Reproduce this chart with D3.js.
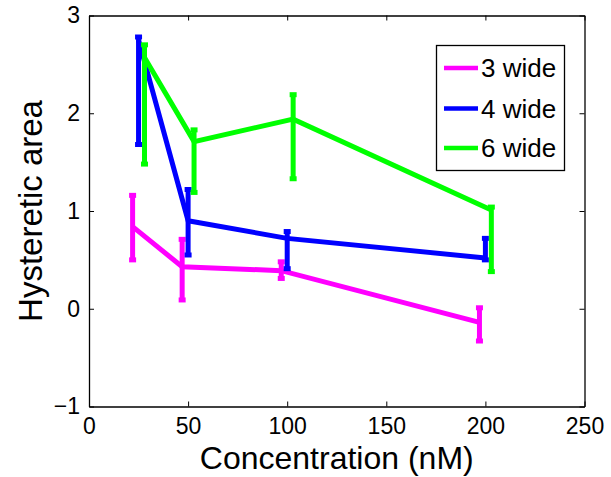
<!DOCTYPE html>
<html>
<head>
<meta charset="utf-8">
<script src="https://cdn.jsdelivr.net/npm/d3@7"></script>
<style>
  html, body { margin: 0; padding: 0; background: #fff; }
  svg { display: block; }
  text { font-family: "Liberation Sans", Arial, Helvetica, sans-serif; fill: #000; }
</style>
</head>
<body>
<svg id="chart" width="611" height="477"></svg>
<script>
// Concentration (nM) per series, with small horizontal offsets so bars don't overlap
const seriesNames = ["3 wide", "4 wide", "6 wide"];
const seriesColors = ["#ff00ff", "#0000ff", "#00ff00"];

const conc3 = [22, 47, 97, 197];
const area3 = [0.84, 0.43, 0.39, -0.14];
const lower3 = [0.50, 0.09, 0.31, -0.33];
const upper3 = [1.16, 0.71, 0.48, 0.01];

const conc4 = [25, 50, 100, 200];
const area4 = [2.75, 0.90, 0.72, 0.52];
const lower4 = [1.68, 0.55, 0.41, 0.50];
const upper4 = [2.78, 1.22, 0.79, 0.72];

const conc6 = [28, 53, 103, 203];
const area6 = [2.57, 1.71, 1.94, 1.01];
const lower6 = [1.48, 1.19, 1.33, 0.38];
const upper6 = [2.70, 1.83, 2.19, 1.04];

const xTicks = [0, 50, 100, 150, 200, 250];
const yTicks = [-1, 0, 1, 2, 3];

const series = [
  { name: seriesNames[0], color: seriesColors[0], x: conc3, y: area3, lo: lower3, hi: upper3 },
  { name: seriesNames[1], color: seriesColors[1], x: conc4, y: area4, lo: lower4, hi: upper4 },
  { name: seriesNames[2], color: seriesColors[2], x: conc6, y: area6, lo: lower6, hi: upper6 }
];

const svg = d3.select("#chart");
const plotLeft = 89, plotRight = 584.5, plotTop = 15.5, plotBottom = 406.5;

const x = d3.scaleLinear().domain([0, 250]).range([plotLeft, plotRight]);
const y = d3.scaleLinear().domain([-1, 3]).range([plotBottom, plotTop]);

const lineW = 5;

// Plot data: error bars and connecting lines per series
const plot = svg.append("g");
series.forEach(s => {
  const g = plot.append("g");
  const pts = s.x.map((cx, i) => ({ cx, cy: s.y[i], lo: s.lo[i], hi: s.hi[i] }));
  // vertical bars
  g.selectAll("line.bar").data(pts).join("line")
    .attr("x1", d => x(d.cx)).attr("x2", d => x(d.cx))
    .attr("y1", d => y(d.lo)).attr("y2", d => y(d.hi))
    .attr("stroke", s.color).attr("stroke-width", lineW);
  // caps
  ["lo", "hi"].forEach(k => {
    g.selectAll("line.cap" + k).data(pts).join("line")
      .attr("x1", d => x(d.cx) - 3.5).attr("x2", d => x(d.cx) + 3.5)
      .attr("y1", d => y(d[k])).attr("y2", d => y(d[k]))
      .attr("stroke", s.color).attr("stroke-width", lineW);
  });
  g.append("path")
    .datum(pts)
    .attr("d", d3.line().x(d => x(d.cx)).y(d => y(d.cy)))
    .attr("fill", "none")
    .attr("stroke", s.color)
    .attr("stroke-width", lineW)
    .attr("stroke-linejoin", "miter");
});

// Axes box with inward ticks on all four sides
const axisG = svg.append("g");
const tickLen = 5;
axisG.append("g").attr("transform", `translate(0,${plotBottom})`)
  .call(d3.axisBottom(x).tickValues(xTicks).tickSizeInner(-tickLen).tickSizeOuter(0).tickPadding(11))
  .call(g => g.selectAll("text").attr("font-size", 23).attr("dy", "0.71em"));
axisG.append("g").attr("transform", `translate(0,${plotTop})`)
  .call(d3.axisTop(x).tickValues(xTicks).tickSizeInner(-tickLen).tickSizeOuter(0).tickFormat(""));
axisG.append("g").attr("transform", `translate(${plotLeft},0)`)
  .call(d3.axisLeft(y).tickValues(yTicks).tickSizeInner(-tickLen).tickSizeOuter(0).tickPadding(9)
    .tickFormat(d => d < 0 ? "\u2212" + Math.abs(d) : d))
  .call(g => g.selectAll("text").attr("font-size", 23));
axisG.append("g").attr("transform", `translate(${plotRight},0)`)
  .call(d3.axisRight(y).tickValues(yTicks).tickSizeInner(-tickLen).tickSizeOuter(0).tickFormat(""));
axisG.selectAll(".domain").attr("stroke", "#000").attr("stroke-width", 1.3);
axisG.selectAll(".tick line").attr("stroke", "#000").attr("stroke-width", 1);
axisG.selectAll("text").attr("font-family", "Liberation Sans, Arial, sans-serif").attr("fill", "#000");

// Axis titles
svg.append("text")
  .attr("x", (plotLeft + plotRight) / 2).attr("y", 468.5)
  .attr("text-anchor", "middle").attr("font-size", 32)
  .text("Concentration (nM)");
svg.append("text")
  .attr("transform", `translate(42,${(plotTop + plotBottom) / 2}) rotate(-90)`)
  .attr("text-anchor", "middle").attr("font-size", 33)
  .text("Hysteretic area");

// Legend
const legend = svg.append("g");
legend.append("rect")
  .attr("x", 436.5).attr("y", 45.5).attr("width", 128).attr("height", 125)
  .attr("fill", "#fff").attr("stroke", "#000").attr("stroke-width", 1.3);
const rowY = [68, 108.5, 148];
series.forEach((s, i) => {
  legend.append("line")
    .attr("x1", 444).attr("x2", 478).attr("y1", rowY[i]).attr("y2", rowY[i])
    .attr("stroke", s.color).attr("stroke-width", 4.5);
  legend.append("text")
    .attr("x", 481).attr("y", rowY[i]).attr("dy", "0.35em")
    .attr("font-size", 26).text(s.name);
});
</script>
</body>
</html>
